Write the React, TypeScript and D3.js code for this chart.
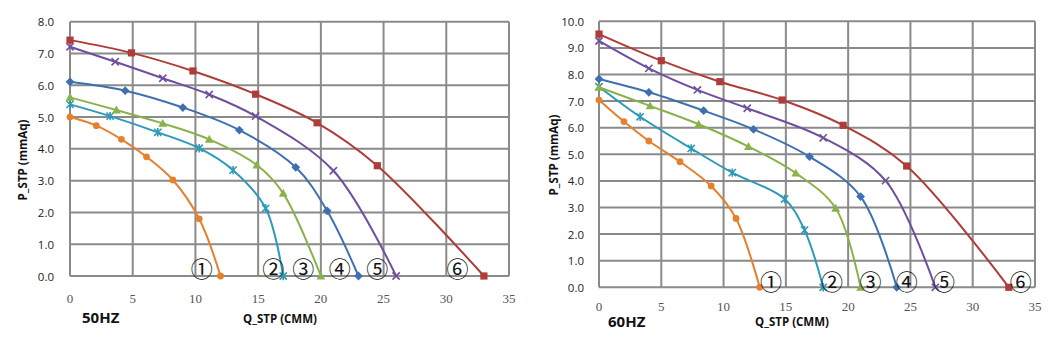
import React from "react";
import * as d3 from "d3";

// ---------- 50HZ data ----------
const q50_1 = [0, 2.1, 4.1, 6.1, 8.2, 10.3, 12.0];
const p50_1 = [5.0, 4.73, 4.3, 3.75, 3.02, 1.8, 0];
const q50_2 = [0, 3.2, 7.0, 10.3, 13.0, 15.6, 17.0];
const p50_2 = [5.4, 5.03, 4.52, 4.02, 3.33, 2.13, 0];
const q50_3 = [0, 3.7, 7.4, 11.1, 14.9, 17.0, 20.0];
const p50_3 = [5.62, 5.22, 4.8, 4.3, 3.49, 2.6, 0];
const q50_4 = [0, 4.4, 9.0, 13.5, 18.0, 20.5, 23.0];
const p50_4 = [6.11, 5.83, 5.3, 4.59, 3.42, 2.05, 0];
const q50_5 = [0, 3.6, 7.4, 11.1, 14.8, 21.0, 26.0];
const p50_5 = [7.21, 6.74, 6.22, 5.71, 5.03, 3.31, 0];
const q50_6 = [0, 4.9, 9.8, 14.8, 19.7, 24.5, 33.0];
const p50_6 = [7.42, 7.02, 6.45, 5.72, 4.82, 3.47, 0];

// ---------- 60HZ data ----------
const q60_1 = [0, 2.0, 4.0, 6.5, 9.0, 11.0, 12.9];
const p60_1 = [7.04, 6.23, 5.5, 4.72, 3.81, 2.59, 0];
const q60_2 = [0, 3.3, 7.4, 10.7, 14.9, 16.5, 18.0];
const p60_2 = [7.54, 6.41, 5.22, 4.31, 3.32, 2.15, 0];
const q60_3 = [0, 4.1, 8.0, 12.0, 15.8, 19.0, 21.0];
const p60_3 = [7.52, 6.82, 6.13, 5.29, 4.29, 2.97, 0];
const q60_4 = [0, 4.0, 8.4, 12.4, 16.9, 21.0, 23.9];
const p60_4 = [7.83, 7.33, 6.64, 5.94, 4.91, 3.41, 0];
const q60_5 = [0, 4.0, 7.9, 11.9, 18.0, 23.0, 27.0];
const p60_5 = [9.26, 8.23, 7.42, 6.73, 5.62, 4.01, 0];
const q60_6 = [0, 5.0, 9.7, 14.7, 19.6, 24.7, 32.9];
const p60_6 = [9.52, 8.52, 7.73, 7.04, 6.09, 4.56, 0];

// curve labels (circled numbers) positions in data coords
const labels = ["①", "②", "③", "④", "⑤", "⑥"];
const labelQ50 = [10.5, 16.2, 18.6, 21.5, 24.5, 30.9];
const labelQ60 = [13.8, 18.7, 21.8, 24.7, 27.7, 33.85];

const xTicks = [0, 5, 10, 15, 20, 25, 30, 35];
const yTicks50 = [0, 1, 2, 3, 4, 5, 6, 7, 8];
const yTicks60 = [0, 1, 2, 3, 4, 5, 6, 7, 8, 9, 10];

const colors = ["#E5802F", "#2E9AB8", "#8AB24A", "#3E70B0", "#6E4F9E", "#AE3C38"];
const markers = ["circle", "asterisk", "triangle", "diamond", "x", "square"];

type Pt = [number, number];

function Marker({ kind, x, y, color }: { kind: string; x: number; y: number; color: string }) {
  const s = 3.6;
  switch (kind) {
    case "circle":
      return <circle cx={x} cy={y} r={3.4} fill={color} />;
    case "square":
      return <rect x={x - 3.6} y={y - 3.6} width={7.2} height={7.2} fill={color} />;
    case "diamond":
      return <path d={`M${x},${y - 4.4}L${x + 4.4},${y}L${x},${y + 4.4}L${x - 4.4},${y}Z`} fill={color} />;
    case "triangle":
      return <path d={`M${x},${y - 4.5}L${x + 4.4},${y + 3.4}L${x - 4.4},${y + 3.4}Z`} fill={color} />;
    case "x":
      return (
        <path d={`M${x - s},${y - s}L${x + s},${y + s}M${x - s},${y + s}L${x + s},${y - s}`} stroke={color} strokeWidth={1.6} />
      );
    case "asterisk":
      return (
        <path
          d={`M${x - s},${y - s}L${x + s},${y + s}M${x - s},${y + s}L${x + s},${y - s}M${x},${y - 4.2}L${x},${y + 4.2}`}
          stroke={color}
          strokeWidth={1.6}
        />
      );
  }
  return null;
}

interface ChartProps {
  x0: number;
  x1: number;
  yTop: number;
  yBot: number;
  yMax: number;
  yTicks: number[];
  series: Pt[][];
  labelQ: number[];
  labelY: number;
  xLabelY: number;
  yLabelX: number;
  yTitleX: number;
  yTitleY: number;
  hzText: string;
  hzX: number;
  hzY: number;
  qTitleX: number;
  qTitleY: number;
}

function Chart(p: ChartProps) {
  const x = d3.scaleLinear().domain([0, 35]).range([p.x0, p.x1]);
  const y = d3.scaleLinear().domain([0, p.yMax]).range([p.yBot, p.yTop]);
  const line = d3
    .line<Pt>()
    .x((d) => x(d[0]))
    .y((d) => y(d[1]))
    .curve(d3.curveCatmullRom.alpha(0.5));
  const grid = "#8a8a8a";
  return (
    <g>
      {p.yTicks.map((t) => (
        <line key={"h" + t} x1={p.x0} x2={p.x1} y1={y(t)} y2={y(t)} stroke={grid} strokeWidth={2} />
      ))}
      {xTicks.map((t) => (
        <line key={"v" + t} x1={x(t)} x2={x(t)} y1={p.yTop} y2={p.yBot} stroke={grid} strokeWidth={2} />
      ))}
      {p.yTicks.map((t) => (
        <text
          key={"yl" + t}
          x={p.yLabelX}
          y={y(t)}
          textAnchor="end"
          dominantBaseline="central"
          fontFamily="'Open Sans', sans-serif"
          fontSize={11.5}
          fill="#222"
        >
          {t.toFixed(1)}
        </text>
      ))}
      {xTicks.map((t) => (
        <text
          key={"xl" + t}
          x={x(t)}
          y={p.xLabelY}
          textAnchor="middle"
          dominantBaseline="central"
          fontFamily="'Liberation Serif', serif"
          fontSize={13}
          fill="#555"
        >
          {t}
        </text>
      ))}
      {p.series.map((s, i) => (
        <g key={"s" + i}>
          <path d={line(s) || ""} fill="none" stroke={colors[i]} strokeWidth={2} />
          {s.map((d, j) => (
            <Marker key={j} kind={markers[i]} x={x(d[0])} y={y(d[1])} color={colors[i]} />
          ))}
        </g>
      ))}
      {labels.map((l, i) => (
        <text
          key={"lab" + i}
          x={x(p.labelQ[i])}
          y={y(p.labelY)}
          textAnchor="middle"
          dominantBaseline="central"
          fontFamily="'Noto Sans CJK JP', sans-serif"
          fontSize={22}
          fill="#111"
        >
          {l}
        </text>
      ))}
      <text
        transform={`translate(${p.yTitleX},${p.yTitleY}) rotate(-90)`}
        textAnchor="middle"
        dominantBaseline="central"
        fontFamily="'Open Sans', sans-serif"
        fontWeight="bold"
        fontSize={11.5}
        fill="#111"
      >
        P_STP (mmAq)
      </text>
      <text
        x={p.hzX}
        y={p.hzY}
        dominantBaseline="central"
        fontFamily="'Open Sans', sans-serif"
        fontWeight="bold"
        fontSize={15}
        fill="#111"
      >
        {p.hzText}
      </text>
      <text
        x={p.qTitleX}
        y={p.qTitleY}
        textAnchor="middle"
        dominantBaseline="central"
        fontFamily="'Open Sans', sans-serif"
        fontWeight="bold"
        fontSize={11.5}
        fill="#111"
      >
        Q_STP (CMM)
      </text>
    </g>
  );
}

function zip(q: number[], pv: number[]): Pt[] {
  return q.map((v, i) => [v, pv[i]] as Pt);
}

export default function App() {
  const s50 = [
    zip(q50_1, p50_1),
    zip(q50_2, p50_2),
    zip(q50_3, p50_3),
    zip(q50_4, p50_4),
    zip(q50_5, p50_5),
    zip(q50_6, p50_6),
  ];
  const s60 = [
    zip(q60_1, p60_1),
    zip(q60_2, p60_2),
    zip(q60_3, p60_3),
    zip(q60_4, p60_4),
    zip(q60_5, p60_5),
    zip(q60_6, p60_6),
  ];
  return (
    <svg
      width={1055}
      height={344}
      style={{ position: "absolute", left: 0, top: 0, background: "#fff" }}
    >
      <Chart
        x0={70}
        x1={509}
        yTop={21.7}
        yBot={276}
        yMax={8}
        yTicks={yTicks50}
        series={s50}
        labelQ={labelQ50}
        labelY={0.27}
        xLabelY={298}
        yLabelX={54}
        yTitleX={22}
        yTitleY={160}
        hzText="50HZ"
        hzX={82}
        hzY={317}
        qTitleX={280}
        qTitleY={318}
      />
      <Chart
        x0={599}
        x1={1035}
        yTop={21.3}
        yBot={287.3}
        yMax={10}
        yTicks={yTicks60}
        series={s60}
        labelQ={labelQ60}
        labelY={0.27}
        xLabelY={306}
        yLabelX={584}
        yTitleX={553}
        yTitleY={155}
        hzText="60HZ"
        hzX={608}
        hzY={321}
        qTitleX={792}
        qTitleY={321}
      />
    </svg>
  );
}
